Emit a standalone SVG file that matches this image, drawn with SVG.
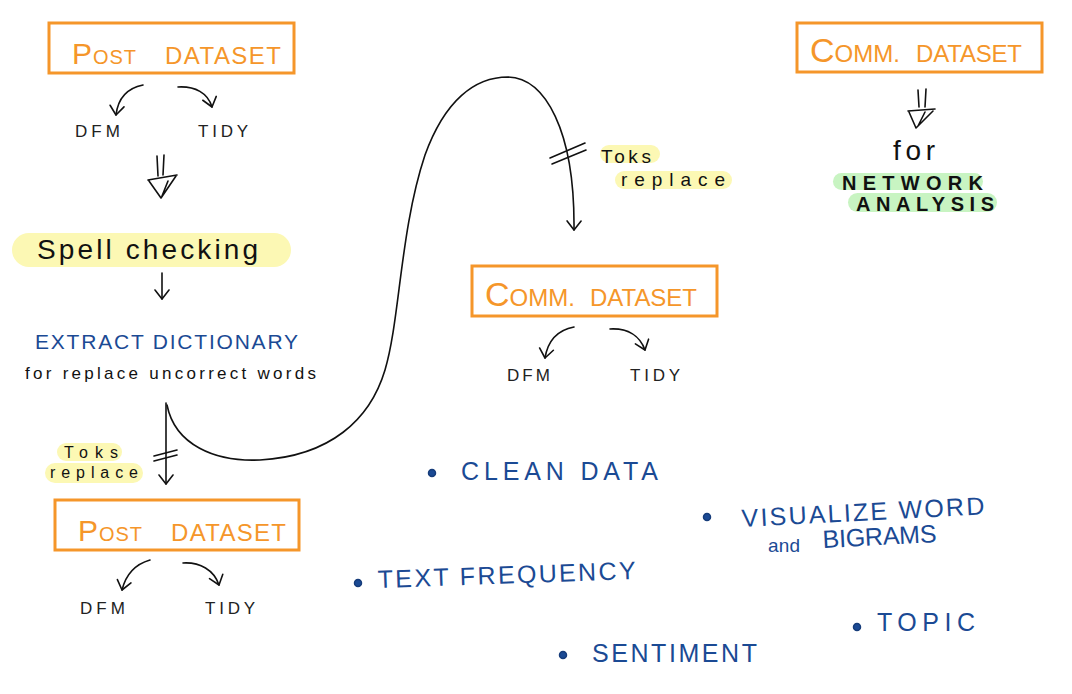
<svg xmlns="http://www.w3.org/2000/svg" width="1072" height="694" viewBox="0 0 1072 694">
<defs>
<style>
.box{fill:none;stroke:#F5962A;stroke-width:3}
.otx{fill:#F5962A;font-family:"Liberation Sans",Arial,sans-serif;font-size:24px}
.otx .big{font-size:34px}
.otx .bp{font-size:30px}
.otx .sm{font-size:20px}
.small{fill:#222;font-family:"Liberation Sans",Arial,sans-serif;font-size:17px}
.blk{fill:#111;font-family:"Liberation Sans",Arial,sans-serif}
.blue{fill:#1B4A94;font-family:"Liberation Sans",Arial,sans-serif;font-size:25px}
.ln{fill:none;stroke:#111;stroke-width:1.6;stroke-linecap:round;stroke-linejoin:round}
.yel{fill:#FCF8B4}
.grn{fill:#C8F4C2}
.dot{fill:#1B4A94;stroke:#163c7a;stroke-width:1.5}
</style>
<marker id="arr" viewBox="-12 -9 14 18" refX="0" refY="0" markerWidth="14" markerHeight="18" markerUnits="userSpaceOnUse" orient="auto">
<path d="M-9,-7 L0,0 L-9,7" fill="none" stroke="#111" stroke-width="1.6" stroke-linecap="round" stroke-linejoin="round"/>
</marker>
</defs>
<rect width="1072" height="694" fill="#fff"/>

<g id="post-dataset-1">
<rect class="box" x="49" y="23" width="245" height="50"/>
<text class="otx" x="72" y="64" textLength="64" lengthAdjust="spacing"><tspan class="bp">P</tspan><tspan class="sm">OST</tspan></text>
<text class="otx" x="165" y="64" textLength="116" lengthAdjust="spacing">DATASET</text>
<text class="small" x="75" y="137" textLength="45" lengthAdjust="spacing">DFM</text>
<text class="small" x="198" y="137" textLength="50" lengthAdjust="spacing">TIDY</text>
</g>

<g id="spell-checking">
<rect class="yel" x="12" y="233" width="279" height="34" rx="17"/>
<text class="blk" x="37" y="259" font-size="28" textLength="221" lengthAdjust="spacing">Spell checking</text>
</g>

<g id="extract-dictionary">
<text class="blue" x="35" y="349" style="font-size:21px" textLength="263" lengthAdjust="spacing">EXTRACT DICTIONARY</text>
<text class="blk" x="25" y="379" font-size="17" textLength="291" lengthAdjust="spacing">for replace uncorrect words</text>
</g>

<g id="toks-left">
<rect class="yel" x="57" y="443" width="65" height="18" rx="9"/>
<rect class="yel" x="45" y="463" width="98" height="20" rx="10"/>
<text class="blk" x="64" y="458" font-size="16" textLength="54" lengthAdjust="spacing">Toks</text>
<text class="blk" x="50" y="478" font-size="16" textLength="88" lengthAdjust="spacing">replace</text>
</g>

<g id="post-dataset-2">
<rect class="box" x="55" y="500" width="244" height="50"/>
<text class="otx" x="78" y="541" textLength="64" lengthAdjust="spacing"><tspan class="bp">P</tspan><tspan class="sm">OST</tspan></text>
<text class="otx" x="171" y="541" textLength="115" lengthAdjust="spacing">DATASET</text>
<text class="small" x="80" y="614" textLength="45" lengthAdjust="spacing">DFM</text>
<text class="small" x="205" y="614" textLength="50" lengthAdjust="spacing">TIDY</text>
</g>

<g id="toks-right">
<rect class="yel" x="600" y="145" width="60" height="18" rx="9"/>
<rect class="yel" x="615" y="171" width="117" height="18" rx="9"/>
<text class="blk" x="601" y="163" font-size="19" textLength="50" lengthAdjust="spacing">Toks</text>
<text class="blk" x="621" y="186" font-size="19" textLength="104" lengthAdjust="spacing">replace</text>
</g>

<g id="comm-dataset-1">
<rect class="box" x="472" y="266" width="245" height="50"/>
<text class="otx" x="485" y="306" textLength="90" lengthAdjust="spacing"><tspan class="big">C</tspan>OMM.</text>
<text class="otx" x="590" y="306" textLength="107" lengthAdjust="spacing">DATASET</text>
<text class="small" x="507" y="381" textLength="43" lengthAdjust="spacing">DFM</text>
<text class="small" x="630" y="381" textLength="50" lengthAdjust="spacing">TIDY</text>
</g>

<g id="comm-dataset-2">
<rect class="box" x="797" y="23" width="245" height="49"/>
<text class="otx" x="810" y="62" textLength="90" lengthAdjust="spacing"><tspan class="big">C</tspan>OMM.</text>
<text class="otx" x="916" y="62" textLength="106" lengthAdjust="spacing">DATASET</text>
</g>

<g id="network-analysis">
<text class="blk" x="893" y="160" font-size="28" textLength="42" lengthAdjust="spacing">for</text>
<rect class="grn" x="833" y="173" width="150" height="17" rx="8.5"/>
<rect class="grn" x="848" y="193" width="149" height="19" rx="9.5"/>
<text class="blk" x="842" y="190" font-size="20" font-weight="bold" textLength="141" lengthAdjust="spacing">NETWORK</text>
<text class="blk" x="856" y="211" font-size="20" font-weight="bold" textLength="138" lengthAdjust="spacing">ANALYSIS</text>
</g>

<g id="clean-data">
<circle class="dot" cx="432" cy="473" r="3.5"/>
<text class="blue" x="461" y="480" textLength="197" lengthAdjust="spacing">CLEAN DATA</text>
</g>
<g id="visualize">
<circle class="dot" cx="707" cy="517" r="3.5"/>
<text class="blue" x="742" y="527" textLength="243" lengthAdjust="spacing" transform="rotate(-3 742 527)">VISUALIZE WORD</text>
<text class="blue" x="768" y="552" style="font-size:19px" textLength="32" lengthAdjust="spacing">and</text>
<text class="blue" x="823" y="548" textLength="114" lengthAdjust="spacing" transform="rotate(-3 823 548)">BIGRAMS</text>
</g>
<g id="text-frequency">
<circle class="dot" cx="358" cy="583" r="3.5"/>
<text class="blue" x="378" y="588" textLength="258" lengthAdjust="spacing" transform="rotate(-2 378 588)">TEXT FREQUENCY</text>
</g>
<g id="sentiment">
<circle class="dot" cx="563" cy="655" r="3.5"/>
<text class="blue" x="592" y="662" textLength="165" lengthAdjust="spacing">SENTIMENT</text>
</g>
<g id="topic">
<circle class="dot" cx="857" cy="627" r="3.5"/>
<text class="blue" x="877" y="631" textLength="98" lengthAdjust="spacing">TOPIC</text>
</g>

<g id="connectors">
<path class="ln" d="M143,85 C128,88 118,98 116,115" marker-end="url(#arr)"/>
<path class="ln" d="M178,87 C195,86 208,93 212,107" marker-end="url(#arr)"/>
<path class="ln" d="M157,156 L158,176 M164,155 L163,175 M148,180 L177,175 M149,181 L161,198 L176,176 M168,181 L162,196"/>
<path class="ln" d="M162,273 L162,299" marker-end="url(#arr)"/>
<path class="ln" d="M166,403 L166,484" marker-end="url(#arr)"/>
<path class="ln" d="M154,456 L177,450 M154,461 L177,455"/>
<path class="ln" d="M167,405 C175,445 215,462 260,460 C330,456 370,420 385,370 C400,320 400,230 425,155 C445,100 475,77 508,77 C545,78 575,130 574,230" marker-end="url(#arr)"/>
<path class="ln" d="M550,158 L585,143 M552,164 L586,150"/>
<path class="ln" d="M150,560 C136,564 126,574 122,590" marker-end="url(#arr)"/>
<path class="ln" d="M183,563 C200,562 214,570 219,585" marker-end="url(#arr)"/>
<path class="ln" d="M574,327 C558,330 548,340 545,358" marker-end="url(#arr)"/>
<path class="ln" d="M610,329 C628,328 640,336 645,350" marker-end="url(#arr)"/>
<path class="ln" d="M918,90 L919,107 M926,89 L925,107 M908,111 L935,109 M909,112 L916,128 L933,111 M925,112 L918,126"/>
</g>
</svg>
